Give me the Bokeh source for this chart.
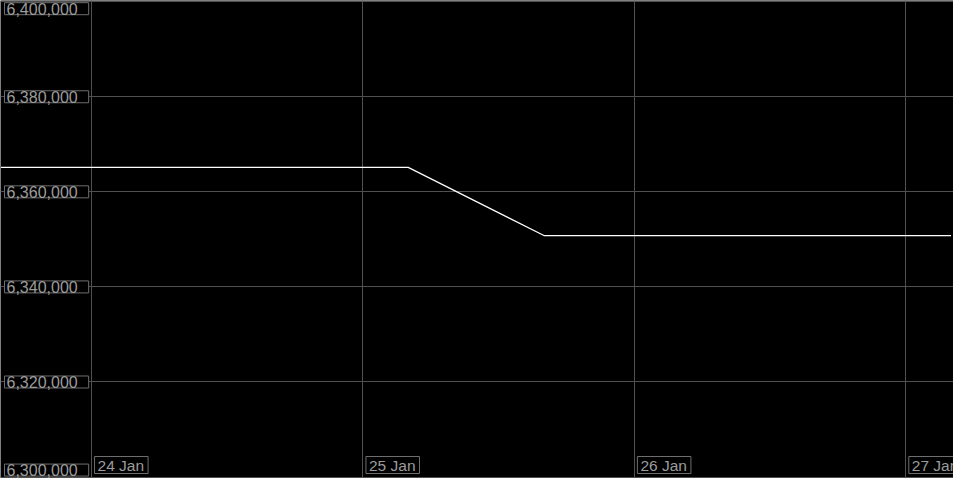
import pandas as pd
from bokeh.plotting import figure
from bokeh.models import Range1d, FixedTicker, Label
from bokeh.embed import file_html
from bokeh.resources import INLINE

# ---- data ----
times = pd.date_range("2024-01-23 16:00", "2024-01-27 04:00", freq="12h")
values = [6365150, 6365150, 6365150, 6365150, 6350800, 6350800, 6350800, 6350800]

x_ticks = pd.to_datetime(["2024-01-24", "2024-01-25", "2024-01-26", "2024-01-27"])
x_tick_labels = ["24 Jan", "25 Jan", "26 Jan", "27 Jan"]
y_ticks = [6300000, 6320000, 6340000, 6360000, 6380000, 6400000]
y_tick_labels = ["6,300,000", "6,320,000", "6,340,000", "6,360,000", "6,380,000", "6,400,000"]

x_start = pd.Timestamp("2024-01-23 15:57")
x_end = pd.Timestamp("2024-01-27 04:13")
y_start, y_end = 6299700, 6400250

# ---- style ----
BG = "#000000"
GRID = "#505050"
TXT = "#9c9c9c"
BOX = "#6e6e6e"
FONT = "Liberation Sans"

p = figure(width=953, height=478, output_backend="svg", toolbar_location=None,
           x_axis_type="datetime",
           x_range=Range1d(x_start, x_end), y_range=Range1d(y_start, y_end),
           min_border=0, min_border_left=0, min_border_right=0,
           min_border_top=0, min_border_bottom=0)
p.background_fill_color = BG
p.border_fill_color = BG
p.outline_line_color = None
p.xaxis.visible = False
p.yaxis.visible = False

x_ms = [t.value / 1e6 for t in x_ticks]
p.xgrid.ticker = FixedTicker(ticks=x_ms)
p.ygrid.ticker = FixedTicker(ticks=y_ticks)
for g in (p.xgrid, p.ygrid):
    g.grid_line_color = GRID
    g.grid_line_width = 1

p.line(times, values, line_color="#ffffff", line_width=1.2)

ymax, ymin = max(y_ticks), min(y_ticks)
for v, lab in zip(y_ticks, y_tick_labels):
    if v == ymax:
        base, yoff = "top", -1
    elif v == ymin:
        base, yoff = "bottom", 1
    else:
        base, yoff = "middle", 0
    p.add_layout(Label(x=4, x_units="screen", y=v, y_offset=yoff, text=lab,
                       text_align="left", text_baseline=base,
                       text_font=FONT, text_font_size="16px", text_color=TXT,
                       background_fill_color=BG, border_line_color=BOX,
                       padding={"left": 2, "right": 11, "top": 0, "bottom": 0}))

for xm, lab in zip(x_ms, x_tick_labels):
    p.add_layout(Label(x=xm, x_offset=3, y=5, y_units="screen", text=lab,
                       text_align="left", text_baseline="bottom",
                       text_font=FONT, text_font_size="15.5px", text_color=TXT,
                       background_fill_color=BG, border_line_color=BOX,
                       padding={"left": 3, "right": 4, "top": 0, "bottom": 0}))

open("out.html", "w").write(file_html(p, INLINE))
